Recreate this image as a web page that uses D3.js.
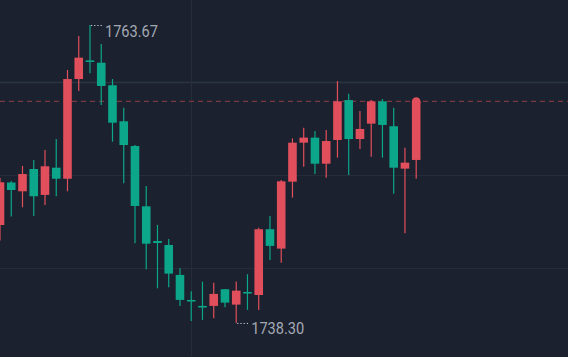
<!DOCTYPE html>
<html><head><meta charset="utf-8">
<script src="https://cdn.jsdelivr.net/npm/d3@7/dist/d3.min.js"></script>
<style>html,body{margin:0;padding:0;background:#1b212e;}svg{display:block;}</style>
</head><body>
<script>
const opens  = [1746.64,1750.26,1749.51,1751.41,1749.20,1751.52,1750.58,1759.07,1760.66,1760.46,1758.54,1755.47,1753.37,1748.23,1745.28,1744.94,1742.39,1740.26,1739.75,1739.75,1741.17,1739.86,1740.94,1740.68,1746.28,1744.63,1750.33,1753.65,1754.08,1751.86,1753.88,1757.28,1753.96,1755.27,1757.17,1755.05,1751.44,1752.18];
const highs  = [1750.64,1750.39,1751.67,1752.18,1753.03,1753.96,1759.84,1762.73,1763.67,1762.05,1759.07,1756.63,1753.45,1749.96,1746.64,1745.45,1742.96,1741.00,1741.82,1741.73,1741.19,1741.82,1742.45,1746.41,1747.41,1750.47,1754.02,1754.93,1754.65,1754.73,1758.90,1757.82,1756.35,1757.28,1757.37,1756.63,1753.22,1757.16];
const lows   = [1745.31,1747.37,1748.15,1747.41,1748.35,1749.09,1749.51,1758.05,1759.56,1756.86,1753.73,1750.19,1745.08,1742.87,1741.25,1741.34,1739.75,1738.47,1738.56,1738.70,1739.64,1738.30,1739.41,1739.41,1743.66,1743.43,1748.97,1751.61,1750.98,1750.67,1752.37,1750.90,1753.11,1752.46,1752.37,1749.31,1745.94,1750.58];
const closes = [1750.28,1749.62,1750.98,1749.09,1751.64,1750.58,1759.07,1760.89,1760.58,1758.48,1755.35,1753.45,1748.26,1745.05,1745.11,1742.50,1740.26,1740.15,1739.64,1740.77,1740.03,1741.05,1740.85,1746.28,1744.86,1750.36,1753.65,1754.08,1751.86,1753.79,1757.17,1753.96,1754.82,1757.17,1755.16,1751.52,1751.95,1757.16];
const gridPrices = [1758.82, 1750.90, 1742.98];
const gridIndex = [17];
const maxLabel = "1763.67", minLabel = "1738.30";

const W = 568, H = 357;
const RED = "#e04f5b", GREEN = "#0ca68a";
const svg = d3.select("body").append("svg").attr("width", W).attr("height", H);
svg.append("rect").attr("width", W).attr("height", H).attr("fill", "#1b212e");

const y = d3.scaleLinear().domain([1735.40, 1765.80]).range([H, 0]);
const x = d3.scaleLinear().domain([0, 37]).range([0, 416.2]);
const bw = 8.6;

// grid
svg.selectAll(".hg").data(gridPrices).enter().append("line")
  .attr("x1", 0).attr("x2", W)
  .attr("y1", d => Math.round(y(d)) + 0.5).attr("y2", d => Math.round(y(d)) + 0.5)
  .attr("stroke", (d, i) => i === 0 ? "#2a3443" : "#252d3a").attr("stroke-width", (d, i) => i === 0 ? 1.6 : 1);
svg.selectAll(".vg").data(gridIndex).enter().append("line")
  .attr("y1", 0).attr("y2", H)
  .attr("x1", d => Math.round(x(d)) + 0.5).attr("x2", d => Math.round(x(d)) + 0.5)
  .attr("stroke", "#252d3a").attr("stroke-width", 1);

// last price line
const last = closes[closes.length - 1];
svg.append("line").attr("x1", 0).attr("x2", W)
  .attr("y1", y(last)).attr("y2", y(last))
  .attr("stroke", "#7a3841").attr("stroke-width", 1.3).attr("stroke-dasharray", "5,4");

const data = opens.map((o, i) => ({i, o, h: highs[i], l: lows[i], c: closes[i]}));
const g = svg.selectAll(".c").data(data).enter().append("g");
g.append("line")
  .attr("x1", d => x(d.i)).attr("x2", d => x(d.i))
  .attr("y1", d => y(d.h)).attr("y2", d => y(d.l))
  .attr("stroke", d => d.c >= d.o ? RED : GREEN).attr("stroke-width", 1.2);
g.append("rect")
  .attr("x", d => x(d.i) - bw / 2).attr("width", bw)
  .attr("y", d => y(Math.max(d.o, d.c)))
  .attr("height", d => Math.max(1.6, Math.abs(y(d.o) - y(d.c))))
  .attr("fill", d => d.c >= d.o ? RED : GREEN);

// last point marker
svg.append("circle").attr("cx", x(37)).attr("cy", y(last)).attr("r", bw / 2).attr("fill", RED);

// max / min labels
function label(idx, price, text) {
  const px = x(idx), py = y(price);
  svg.append("line").attr("x1", px + 1).attr("x2", px + 13)
    .attr("y1", py + 0.5).attr("y2", py + 0.5)
    .attr("stroke", "#c9ced6").attr("stroke-width", 1).attr("stroke-dasharray", "1.2,2");
  svg.append("text").attr("x", px + 15).attr("y", py + 11.5)
    .attr("fill", "#a3a9b3").attr("font-family", "Roboto, 'Noto Sans', sans-serif")
    .attr("font-size", 16.5).attr("textLength", 53).attr("lengthAdjust", "spacingAndGlyphs").text(text);
}
label(8, highs[8], maxLabel);
label(21, lows[21], minLabel);
</script>
</body></html>
